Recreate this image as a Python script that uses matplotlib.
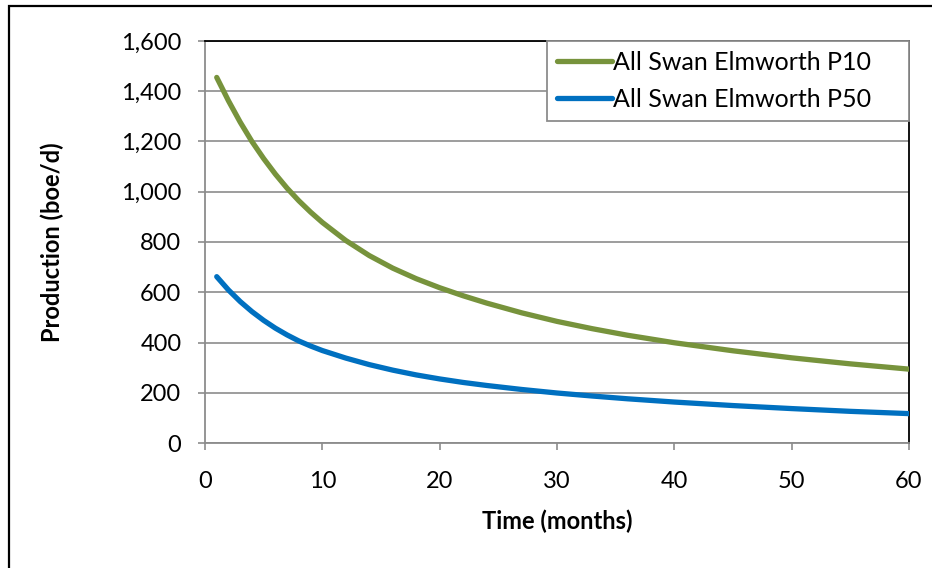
import matplotlib
matplotlib.use("Agg")
import matplotlib.pyplot as plt
from matplotlib.patches import Rectangle
from matplotlib.ticker import FuncFormatter

plt.rcParams['font.family'] = ['Lato', 'DejaVu Sans']

# values
months = [1, 2, 3, 4, 5, 6, 7, 8, 9, 10, 12, 14, 16, 18, 20, 22, 24, 27, 30,
          33, 36, 40, 45, 50, 55, 60]
p10 = [1455, 1362, 1277, 1200, 1132, 1070, 1014, 964, 919, 878, 806, 746, 696,
       654, 618, 586, 557, 518, 484, 455, 429, 399, 367, 339, 315, 294]
p50 = [662, 609, 563, 523, 488, 457, 430, 406, 386, 368, 338, 312, 290, 271,
       255, 241, 229, 213, 199, 187, 176, 163, 149, 137, 126, 117]
series_names = ['All Swan Elmworth P10', 'All Swan Elmworth P50']
series_colors = ['#77933C', '#0070C0']

x_ticks = [0, 10, 20, 30, 40, 50, 60]
y_ticks = [0, 200, 400, 600, 800, 1000, 1200, 1400, 1600]

fig = plt.figure(figsize=(9.32, 5.68), dpi=100)
ax = fig.add_axes([205 / 932, 1 - 443 / 568, 704 / 932, 402 / 568])

ax.plot(months, p10, color=series_colors[0], linewidth=3.8,
        solid_capstyle='round', label=series_names[0], zorder=3)
ax.plot(months, p50, color=series_colors[1], linewidth=3.8,
        solid_capstyle='round', label=series_names[1], zorder=3)

ax.set_xlim(0, 60)
ax.set_ylim(0, 1600)
ax.set_xticks(x_ticks)
ax.set_yticks(y_ticks)
ax.yaxis.set_major_formatter(FuncFormatter(lambda v, p: f"{int(v):,}"))

grid_gray = '#8C8C8C'
ax.grid(axis='y', color=grid_gray, linewidth=1.2, zorder=1)
ax.set_axisbelow(True)
for side in ['left', 'bottom']:
    ax.spines[side].set_color(grid_gray)
    ax.spines[side].set_linewidth(1.3)
for side in ['top', 'right']:
    ax.spines[side].set_color('black')
    ax.spines[side].set_linewidth(1.3)

ax.tick_params(axis='both', which='major', labelsize=17, color=grid_gray,
               length=5, width=1.2, direction='out')
ax.tick_params(axis='y', pad=12)
ax.tick_params(axis='x', pad=15)

ax.set_xlabel('Time (months)', fontsize=17, fontweight='bold')
ax.set_ylabel('Production (boe/d)', fontsize=17, fontweight='bold')
ax.xaxis.set_label_coords(0.5, -0.165)
ax.yaxis.set_label_coords(-0.20, 0.5)

# legend box spans the top-right corner of the plot area
leg = ax.legend(loc='upper right', bbox_to_anchor=(0.486, 0.0, 0.514, 1.0),
                mode='expand', borderaxespad=0,
                fontsize=18, frameon=True, fancybox=False, framealpha=1,
                edgecolor=grid_gray, handlelength=2.2, handletextpad=0.05,
                labelspacing=0.55, borderpad=0.4)
leg.get_frame().set_linewidth(1.3)

# outer chart frame (cropped at right and bottom)
fig.add_artist(Rectangle((9 / 932, -0.1), 1.2, 1.1 - 6 / 568,
                         transform=fig.transFigure, fill=False,
                         edgecolor='black', linewidth=1.6, clip_on=False))

plt.savefig('out.png', dpi=100)
